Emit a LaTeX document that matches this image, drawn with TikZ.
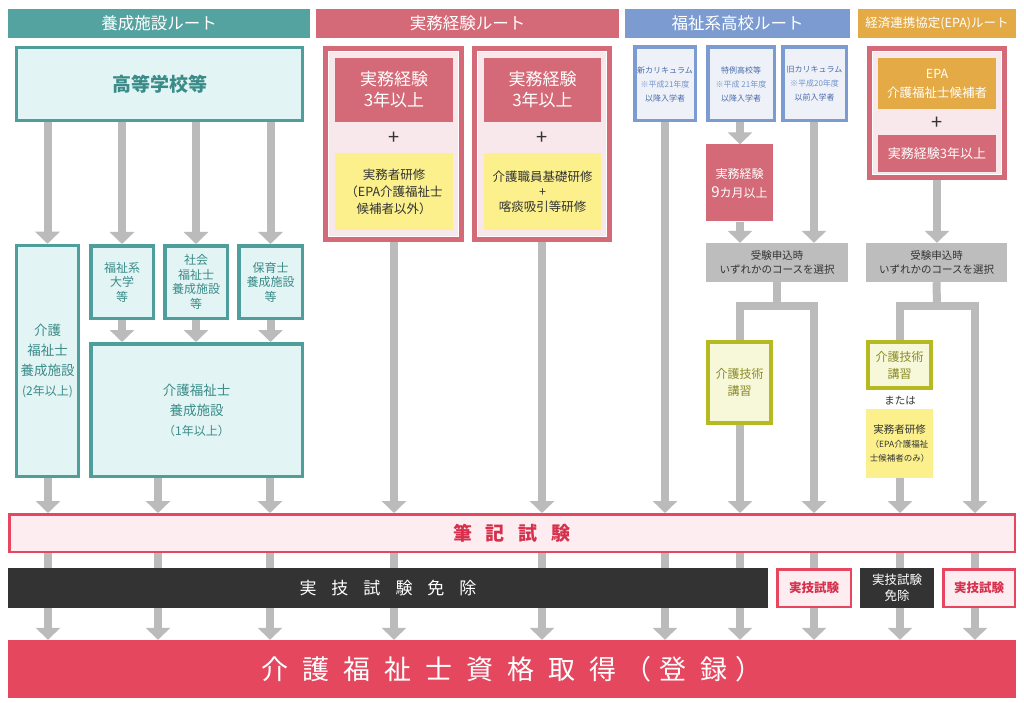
\documentclass[tikz,border=0pt]{standalone}
\usepackage{fontspec}
\setmainfont{Noto Sans CJK JP}
\usetikzlibrary{arrows.meta,backgrounds}

\definecolor{teal1}{HTML}{55A3A0}
\definecolor{tealline}{HTML}{4E9E9B}
\definecolor{tealfill}{HTML}{E3F4F4}
\definecolor{tealtext}{HTML}{3A8C89}
\definecolor{rose}{HTML}{D46A77}
\definecolor{rosefill}{HTML}{F8E8EB}
\definecolor{lemon}{HTML}{FBF08C}
\definecolor{sky}{HTML}{7B9BD1}
\definecolor{skyfill}{HTML}{EEF2F8}
\definecolor{skytext}{HTML}{4A6AAA}
\definecolor{skylight}{HTML}{7393CC}
\definecolor{amber}{HTML}{E4AA45}
\definecolor{greybox}{HTML}{BDBDBD}
\definecolor{greyarrow}{HTML}{BBBBBB}
\definecolor{olive}{HTML}{B6BA22}
\definecolor{olivefill}{HTML}{F7F8DA}
\definecolor{olivetext}{HTML}{8A8B25}
\definecolor{crimson}{HTML}{E6465F}
\definecolor{crimsonfill}{HTML}{FDEDF1}
\definecolor{crimsontext}{HTML}{D6304C}
\definecolor{ink}{HTML}{333333}
\definecolor{goalred}{HTML}{E5475F}

\newcommand{\chgap}[1][12pt]{\hspace{#1}}

\tikzset{
  hdr/.style={minimum height=29pt,inner sep=0pt,text=white,font=\fontsize{16.5}{18}\selectfont},
  tealbox/.style={draw=tealline,line width=3.5pt,fill=tealfill,text=tealtext,align=center,inner sep=0pt,font=\fontsize{12}{14.5}\selectfont},
  routebox/.style={draw=rose,line width=5pt,fill=rosefill,inner sep=0pt},
  redbox/.style={fill=rose,text=white,align=center,inner sep=0pt},
  yellowbox/.style={fill=lemon,text=ink,align=center,inner sep=0pt},
  bluebox/.style={draw=sky,line width=3.5pt,fill=skyfill,text=skytext,align=center,inner sep=0pt,font=\fontsize{8}{14}\selectfont},
  selbox/.style={fill=greybox,text=ink,align=center,inner sep=0pt,font=\fontsize{10.5}{14}\selectfont},
  skillbox/.style={draw=olive,line width=4pt,fill=olivefill,text=olivetext,align=center,inner sep=0pt,font=\fontsize{12}{17}\selectfont},
  exambox/.style={draw=crimson,line width=2.5pt,fill=crimsonfill,text=crimsontext,inner sep=0pt},
  plusmark/.style={text=ink,inner sep=0pt,font=\fontsize{20}{20}\selectfont},
  innerline/.style={white,line width=1pt},
  arr/.style={greyarrow,line width=8pt,-{Triangle[width=24pt,length=12pt]}},
  trunk/.style={greyarrow,line width=8pt}
}

\begin{document}
\begin{tikzpicture}[x=1pt,y=-1pt]
\useasboundingbox (0,0) rectangle (1024,703);

% route headers
\node[hdr,fill=teal1,minimum width=302pt] (h1) at (159,23.5) {養成施設ルート};
\node[hdr,fill=rose,minimum width=303pt] (h2) at (467.5,23.5) {実務経験ルート};
\node[hdr,fill=sky,minimum width=225pt] (h3) at (737.5,23.5) {福祉系高校ルート};
\node[hdr,fill=amber,minimum width=158pt,font=\fontsize{12.5}{14}\selectfont] (h4) at (937,23.5) {経済連携協定(EPA)ルート};

% teal route
\node[tealbox,minimum width=286pt,minimum height=73pt,font=\bfseries\fontsize{19}{22}\selectfont] (school) at (159.5,84) {高等学校等};
\node[tealbox,minimum width=62pt,minimum height=231pt,font=\fontsize{13.5}{20}\selectfont] (t2yr) at (47.5,361) {介護\\福祉士\\養成施設\\{\fontsize{12}{20}\selectfont (2年以上)}};
\node[tealbox,minimum width=62.5pt,minimum height=72.5pt] (tuniv) at (122,282) {福祉系\\大学\\等};
\node[tealbox,minimum width=62.5pt,minimum height=72.5pt] (tsocial) at (196,282) {社会\\福祉士\\養成施設\\等};
\node[tealbox,minimum width=63.5pt,minimum height=72.5pt] (tnursery) at (270.5,282) {保育士\\養成施設\\等};
\node[tealbox,minimum width=211.5pt,minimum height=132.5pt,font=\fontsize{13.5}{20}\selectfont] (t1yr) at (196.5,410) {介護福祉士\\養成施設\\{\fontsize{12}{20}\selectfont （1年以上）}};

% practice route
\node[routebox,minimum width=136pt,minimum height=191pt] (p1) at (393.5,144) {};
\draw[innerline] ([xshift=5.5pt,yshift=-5.5pt]p1.north west) rectangle ([xshift=-5.5pt,yshift=5.5pt]p1.south east);
\node[redbox,minimum width=118pt,minimum height=64pt,font=\fontsize{17}{21}\selectfont] (p1a) at (394,90) {実務経験\\3年以上};
\node[plusmark] (plus1) at (394,138) {+};
\node[yellowbox,minimum width=118pt,minimum height=77pt,font=\fontsize{12.5}{17}\selectfont] (p1b) at (394,191.5) {実務者研修\\（EPA介護福祉士\\候補者以外）};
\node[routebox,minimum width=135pt,minimum height=191pt] (p2) at (542,144) {};
\draw[innerline] ([xshift=5.5pt,yshift=-5.5pt]p2.north west) rectangle ([xshift=-5.5pt,yshift=5.5pt]p2.south east);
\node[redbox,minimum width=117pt,minimum height=64pt,font=\fontsize{17}{21}\selectfont] (p2a) at (542.5,90) {実務経験\\3年以上};
\node[plusmark] (plus2) at (542.5,138) {+};
\node[yellowbox,minimum width=117pt,minimum height=77pt,font=\fontsize{12.5}{15}\selectfont] (p2b) at (542.5,191.5) {介護職員基礎研修\\+\\喀痰吸引等研修};

% welfare high school route
\node[bluebox,minimum width=60.5pt,minimum height=73.5pt] (bnew) at (665,84) {新カリキュラム\\\textcolor{skylight}{※平成21年度}\\以降入学者};
\node[bluebox,minimum width=66.5pt,minimum height=73.5pt] (bspec) at (741,84) {特例高校等\\\textcolor{skylight}{※平成 21年度}\\以降入学者};
\node[bluebox,minimum width=63.5pt,minimum height=73.5pt] (bprev) at (814.5,84) {旧カリキュラム\\\textcolor{skylight}{※平成20年度}\\以前入学者};
\node[redbox,minimum width=67pt,minimum height=77pt,font=\fontsize{12}{19}\selectfont] (b9m) at (739.5,183) {実務経験\\{\fontsize{15}{19}\selectfont 9}カ月以上};
\node[selbox,minimum width=142pt,minimum height=39pt] (bsel) at (777,262.5) {受験申込時\\いずれかのコースを選択};
\node[skillbox,minimum width=63pt,minimum height=81pt] (bskill) at (739.5,382.5) {介護技術\\講習};

% EPA route
\node[routebox,minimum width=135pt,minimum height=129pt] (eout) at (937,113) {};
\draw[innerline] ([xshift=5.5pt,yshift=-5.5pt]eout.north west) rectangle ([xshift=-5.5pt,yshift=5.5pt]eout.south east);
\node[fill=amber,text=white,align=center,inner sep=0pt,minimum width=118pt,minimum height=51pt,font=\fontsize{12.5}{19}\selectfont] (epa) at (937,83.5) {EPA\\介護福祉士候補者};
\node[plusmark] (plus3) at (937,123) {+};
\node[redbox,minimum width=118pt,minimum height=37pt,font=\fontsize{13}{15}\selectfont] (ered) at (937,153.5) {実務経験3年以上};
\node[selbox,minimum width=141pt,minimum height=39pt] (esel) at (936.5,262.5) {受験申込時\\いずれかのコースを選択};
\node[skillbox,minimum width=63pt,minimum height=46pt] (eskill) at (899.5,365) {介護技術\\講習};
\node[text=ink,inner sep=0pt,font=\fontsize{10.5}{12}\selectfont] (eor) at (900,401) {または};
\node[yellowbox,minimum width=67pt,minimum height=69pt,font=\fontsize{10.5}{14}\selectfont] (eyel) at (899.5,443.5) {実務者研修\\{\fontsize{8.5}{13}\selectfont （EPA介護福祉}\\{\fontsize{8.5}{13}\selectfont 士候補者のみ）}};

% exams and goal
\node[exambox,minimum width=1005.5pt,minimum height=37.5pt,font=\bfseries\fontsize{19}{22}\selectfont] (hikki) at (512,533) {筆\chgap[14pt]記\chgap[14pt]試\chgap[14pt]験};
\node[fill=ink,text=white,inner sep=0pt,minimum width=760pt,minimum height=40pt,font=\fontsize{17}{20}\selectfont] (jmen) at (388,588) {実\chgap[15pt]技\chgap[15pt]試\chgap[15pt]験\chgap[15pt]免\chgap[15pt]除};
\node[exambox,minimum width=73.5pt,minimum height=37.5pt,font=\bfseries\fontsize{12.5}{15}\selectfont] (jp1) at (814,588) {実技試験};
\node[fill=ink,text=white,inner sep=0pt,align=center,minimum width=74pt,minimum height=40pt,font=\fontsize{12.5}{16}\selectfont] (jmen2) at (897,588) {実技試験\\免除};
\node[exambox,minimum width=71.5pt,minimum height=37.5pt,font=\bfseries\fontsize{12.5}{15}\selectfont] (jp2) at (979,588) {実技試験};
\node[fill=goalred,text=white,inner sep=0pt,minimum width=1008pt,minimum height=58pt,font=\fontsize{27}{30}\selectfont] (goal) at (512,669) {介\chgap[14pt]護\chgap[14pt]福\chgap[14pt]祉\chgap[14pt]士\chgap[14pt]資\chgap[14pt]格\chgap[14pt]取\chgap[14pt]得\chgap[8pt]（\chgap[8pt]登\chgap[14pt]録\chgap[8pt]）};

\coordinate (k1) at (48,0);
\coordinate (k2) at (158,0);
\coordinate (k3) at (270,0);
\coordinate (k4) at (394,0);
\coordinate (k5) at (542,0);
\coordinate (k6) at (665,0);
\coordinate (k7) at (740,0);
\coordinate (k8) at (814,0);
\coordinate (k9) at (900,0);
\coordinate (k10) at (975,0);
\coordinate (bfork) at (777,306);
\coordinate (efork) at (937,306);

\begin{pgfonlayer}{background}
\fill[white] (0,0) rectangle (1024,703);
\foreach \b in {t2yr,tuniv,tsocial,tnursery}
  \draw[arr] (school.south -| \b.north) -- (\b.north);
\foreach \b in {tuniv,tsocial,tnursery}
  \draw[arr] (\b.south) -- (\b.south |- t1yr.north);
\draw[arr] (t2yr.south -| k1) -- (k1 |- hikki.north);
\draw[arr] (t1yr.south -| k2) -- (k2 |- hikki.north);
\draw[arr] (t1yr.south -| k3) -- (k3 |- hikki.north);
\draw[arr] (p1.south -| k4) -- (k4 |- hikki.north);
\draw[arr] (p2.south -| k5) -- (k5 |- hikki.north);
\draw[arr] (bnew.south -| k6) -- (k6 |- hikki.north);
\draw[arr] (bspec.south -| k7) -- (k7 |- b9m.north);
\draw[arr] (b9m.south -| k7) -- (k7 |- bsel.north);
\draw[arr] (bprev.south -| k8) -- (k8 |- bsel.north);
\draw[trunk] (bsel.south) -- (bfork);
\draw[arr] (bskill.north -| k7) |- (bfork) -| (k8 |- hikki.north);
\draw[arr] (bskill.south -| k7) -- (k7 |- hikki.north);
\draw[arr] (eout.south) -- (eout.south |- esel.north);
\draw[trunk] (esel.south) -- (efork);
\draw[arr] (eskill.north -| k9) |- (efork) -| (k10 |- hikki.north);
\draw[arr] (eyel.south -| k9) -- (k9 |- hikki.north);
\foreach \k in {k1,k2,k3,k4,k5,k6,k7,k8,k9,k10}
  \draw[arr] (\k |- hikki.south) -- (\k |- goal.north);
\end{pgfonlayer}
\end{tikzpicture}
\end{document}
